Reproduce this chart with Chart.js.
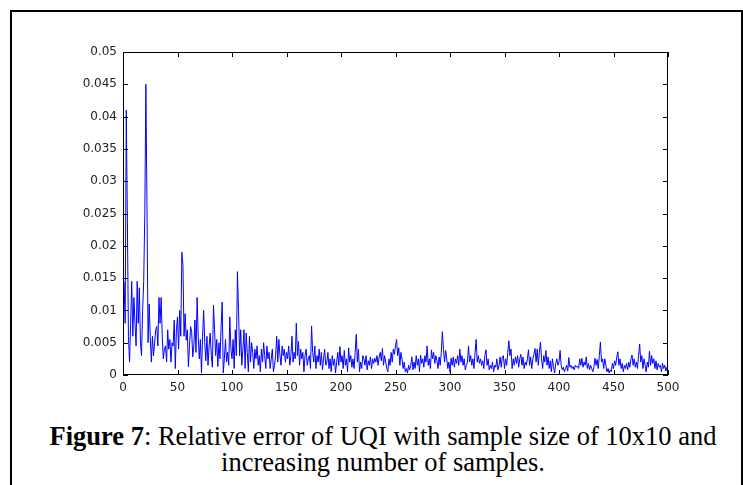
<!DOCTYPE html>
<html>
<head>
<meta charset="utf-8">
<script src="https://cdn.jsdelivr.net/npm/chart.js@4"></script>
<style>
  html, body { margin: 0; padding: 0; background: #fff; }
  #page { position: relative; width: 743px; height: 485px; overflow: hidden; }
  #frame {
    position: absolute; left: 10px; top: 10px; width: 729px; height: 500px;
    border-left: 2px solid #000; border-top: 2px solid #000; border-right: 2px solid #000;
  }
  #plot { position: absolute; left: 0; top: 0; width: 743px; height: 400px; }
  #caption {
    position: absolute; left: 0; top: 423px; width: 766px; text-align: center;
    font-family: "Liberation Serif", "Times New Roman", serif; font-size: 26.5px;
    line-height: 26px; color: #000;
  }
</style>
</head>
<body>
<div id="page">
  <div id="frame"></div>
  <div id="plot"><canvas id="errChart" width="743" height="400"></canvas></div>
  <div id="caption"><b>Figure 7</b>: Relative error of UQI with sample size of 10x10 and<br>increasing number of samples.</div>
</div>
<script>
// relative error per number of samples, in units of 1e-3
const relErrorE3 = [
  14.5, 8, 41, 24, 6, 2, 8, 14.5, 6, 12, 8, 4.5, 14.5, 8, 13.5, 5, 3, 10, 14.5, 25,
  45, 26, 5, 11, 6, 2, 6, 3, 5, 7, 7.5, 4.5, 12, 8, 12, 6, 2.5, 4, 4.5, 2,
  7, 4, 5.5, 2, 5, 4.5, 8.5, 1, 7, 9, 4, 10, 6, 19, 17, 6, 9.5, 5.4, 7, 1.3,
  4.5, 7.5, 6.7, 2.8, 4.5, 8.5, 3.5, 12, 6, 2.5, 5.5, 0.3, 6, 10, 5, 2.2, 6, 1.5, 4.5, 6.5,
  3, 1.2, 10.8, 7, 3, 5.5, 1.3, 5, 2.5, 7.5, 11.3, 0.3, 2.5, 5.5, 2, 3.5, 1.5, 9, 4, 2.5,
  5.5, 1, 7, 3, 16, 10, 3, 7, 1.5, 4, 7, 1, 6.5, 3.5, 0.5, 6, 2, 5, 3.5, 1,
  4, 2.5, 4.5, 1.5, 3, 0.5, 4, 2, 5, 3, 1, 4.5, 2.5, 3.5, 1, 2.5, 4, 0.5, 1.5, 3,
  6, 2, 5.5, 3, 1.5, 4.5, 3, 4, 2, 3.5, 2.5, 4.5, 1.5, 3, 6, 2, 3.5, 2.5, 8, 3,
  5.2, 1.5, 4, 2.5, 3.5, 0.5, 3, 4, 1.5, 2.5, 3, 1, 7.6, 3.5, 2, 4.5, 1, 3, 2, 4,
  1.5, 3.5, 0.8, 2.5, 4, 1.5, 2, 3.5, 1, 2.5, 0.5, 3, 1.5, 2.5, 0.3, 2, 3.5, 1.5, 4.4, 2,
  3, 1, 3.8, 1.5, 2.5, 0.5, 4.2, 2, 3, 1.2, 2.5, 1, 3.5, 6.3, 2, 4, 0.5, 2, 1, 3,
  2.5, 1.5, 3, 0.8, 2.2, 1.5, 2.8, 1, 2.5, 1.8, 2.6, 2, 3, 1.5, 2.8, 3.5, 2.2, 4.1, 1.5, 3,
  2, 1, 0.5, 2.5, 1.5, 3.5, 2, 4, 3.2, 4.5, 5.5, 3, 4.2, 1.5, 3.5, 2.5, 1, 2, 0.5, 1,
  0.3, 1.5, 0.8, 1.5, 2.8, 0.8, 2, 1, 3, 1.5, 2.5, 0.5, 3.1, 1.8, 2.5, 1.2, 3, 2, 4.5, 1.5,
  2.5, 1, 3.9, 2.5, 3.5, 1.8, 3, 2.2, 1, 2.8, 1.5, 3.5, 6.7, 4, 2, 3.8, 2.5, 1, 2, 0.5,
  2.6, 1.5, 2.8, 1.2, 2.5, 1.8, 3, 1.5, 4, 2, 3, 1.5, 2.5, 0.8, 1.5, 2, 4.5, 2, 3, 1.5,
  2.5, 1, 3.5, 5.5, 2, 3, 1.8, 2.5, 1.5, 2.2, 1, 3, 3.9, 1.5, 2.5, 0.8, 1.5, 1, 2, 0.5,
  1.5, 1.2, 2.5, 0.8, 1.5, 2.8, 1.2, 2.8, 3, 1, 2.5, 1.5, 3.5, 5.3, 3, 4, 1, 2.5, 1.5, 2.8,
  1.8, 3, 1.2, 2.5, 3.2, 1.5, 2.8, 1, 2, 1.5, 2.5, 3.9, 1.5, 2.8, 1, 2.5, 3.2, 4.1, 2, 4,
  1.5, 3.5, 5.1, 2.5, 1, 3, 2, 3.8, 1.5, 2.8, 1, 2.2, 0.5, 2.5, 1.2, 0.3, 1.8, 2.5, 1.5, 2,
  3.8, 1.5, 0.8, 1.2, 0.5, 1, 1.5, 0.6, 2.7, 1.2, 1.5, 1, 1.3, 0.8, 1.5, 1.2, 1.4, 1, 2.5, 1.5,
  2.6, 1.2, 2, 1.5, 2.8, 1, 1.8, 0.8, 1.5, 1, 0.5, 1.2, 2.6, 1.5, 2.4, 1, 3, 5.1, 2, 2.5,
  1, 2.5, 1.5, 0.5, 1, 0.3, 0.8, 0.5, 1.8, 1, 2.2, 1.5, 2.8, 3.6, 1.5, 2.5, 1, 1.8, 0.5, 1.5,
  1, 1.8, 0.8, 2, 1.2, 2.5, 3.1, 1.5, 2.5, 1.2, 2, 1, 3, 4.8, 2, 3, 1, 2.5, 1.5, 0.5,
  2, 1.2, 3.7, 1.5, 3, 1.8, 2.5, 1, 2.2, 0.8, 1.8, 1.2, 1.5, 0.5, 1.8, 1, 1.5, 0.6, 1.2, 0.8
];
const yTickLabels = ['0', '0.005', '0.01', '0.015', '0.02', '0.025', '0.03', '0.035', '0.04', '0.045', '0.05'];
const xTickLabels = ['0', '50', '100', '150', '200', '250', '300', '350', '400', '450', '500'];

const points = relErrorE3.map((v, i) => ({ x: i + 1, y: v / 1000 }));

// matlab style box with inward ticks on all four sides
const boxTicks = {
  id: 'boxTicks',
  afterDraw(chart) {
    const { ctx, chartArea: a, scales } = chart;
    ctx.save();
    ctx.strokeStyle = '#000';
    ctx.lineWidth = 1;
    ctx.strokeRect(a.left + 0.5, a.top + 0.5, a.right - a.left - 1, a.bottom - a.top - 1);
    ctx.beginPath();
    scales.y.ticks.forEach(t => {
      const y = Math.round(scales.y.getPixelForValue(t.value)) + 0.5;
      ctx.moveTo(a.left, y); ctx.lineTo(a.left + 5, y);
      ctx.moveTo(a.right, y); ctx.lineTo(a.right - 5, y);
    });
    scales.x.ticks.forEach(t => {
      const x = Math.round(scales.x.getPixelForValue(t.value)) + 0.5;
      ctx.moveTo(x, a.bottom); ctx.lineTo(x, a.bottom - 5);
      ctx.moveTo(x, a.top); ctx.lineTo(x, a.top + 5);
    });
    ctx.stroke();
    ctx.restore();
  }
};

new Chart(document.getElementById('errChart'), {
  type: 'line',
  data: {
    datasets: [{
      data: points,
      borderColor: '#0000ff',
      borderWidth: 1,
      pointRadius: 0,
      tension: 0,
      fill: false
    }]
  },
  options: {
    responsive: false,
    animation: false,
    events: [],
    layout: { padding: { left: 0, top: 52, right: 75, bottom: 0 } },
    plugins: { legend: { display: false }, tooltip: { enabled: false } },
    scales: {
      x: {
        type: 'linear', min: 0, max: 500,
        grid: { display: false, drawTicks: false },
        border: { display: false },
        afterFit: s => { s.height = 25; },
        ticks: {
          stepSize: 50, padding: 6, maxRotation: 0, color: '#222',
          font: { family: 'DejaVu Sans', size: 12 },
          callback: (v, i) => xTickLabels[i]
        }
      },
      y: {
        min: 0, max: 0.05,
        grid: { display: false, drawTicks: false },
        border: { display: false },
        afterFit: s => { s.width = 123; },
        ticks: {
          stepSize: 0.005, padding: 6, color: '#222',
          font: { family: 'DejaVu Sans', size: 12 },
          callback: (v, i) => yTickLabels[i]
        }
      }
    }
  },
  plugins: [boxTicks]
});
</script>
</body>
</html>
